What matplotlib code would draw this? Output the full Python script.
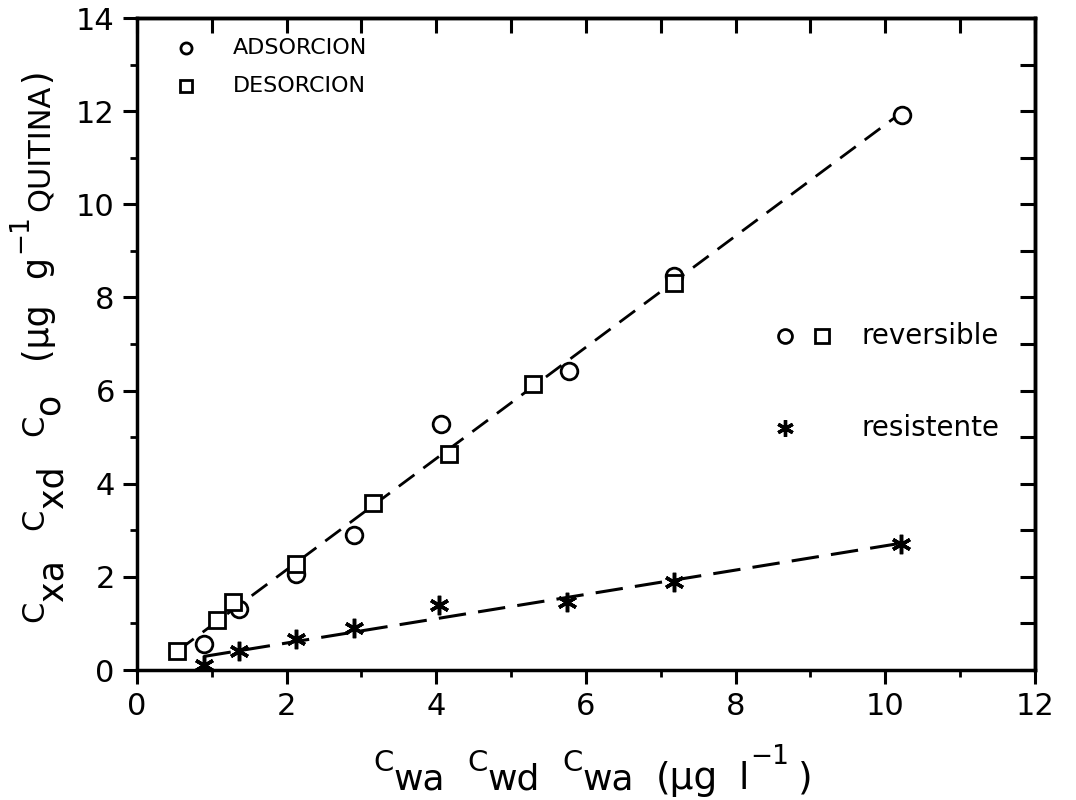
import matplotlib
matplotlib.use("Agg")
import matplotlib.pyplot as plt

# ---- data ----
ads_x = [0.89, 1.37, 2.13, 2.90, 4.06, 5.77, 7.17, 10.22]
ads_y = [0.55, 1.32, 2.06, 2.90, 5.28, 6.42, 8.45, 11.91]

des_x = [0.53, 1.07, 1.28, 2.13, 3.15, 4.17, 5.29, 7.17]
des_y = [0.41, 1.07, 1.46, 2.27, 3.59, 4.63, 6.14, 8.30]

res_x = [0.89, 1.37, 2.13, 2.90, 4.03, 5.75, 7.17, 10.21]
res_y = [0.11, 0.41, 0.66, 0.91, 1.39, 1.47, 1.89, 2.70]

rev_line_x = [0.55, 10.20]
rev_line_y = [0.42, 11.95]
res_line_x = [0.89, 10.20]
res_line_y = [0.29, 2.72]

x_ticks = [0, 2, 4, 6, 8, 10, 12]
y_ticks = [0, 2, 4, 6, 8, 10, 12, 14]

W, H = 1076, 800
fig = plt.figure(figsize=(W / 100, H / 100), dpi=100)
ax = fig.add_axes([0.1273, 0.1625, 0.8346, 0.815])

ax.set_xlim(0, 12)
ax.set_ylim(0, 14)

# fitted dashed lines
ax.plot(rev_line_x, rev_line_y, color="black", lw=2.0, dashes=(7, 4), zorder=2)
ax.plot(res_line_x, res_line_y, color="black", lw=2.2, dashes=(9, 4), zorder=2)

# data markers
ax.plot(ads_x, ads_y, linestyle="none", marker="o", ms=12, mfc="white",
        mec="black", mew=2.0, zorder=3)
ax.plot(des_x, des_y, linestyle="none", marker="s", ms=11.5, mfc="white",
        mec="black", mew=2.0, zorder=3)
ax.plot(res_x, res_y, linestyle="none", marker=(6, 2, 0), ms=14,
        mec="black", mew=2.5, zorder=3)

# spines
for s in ax.spines.values():
    s.set_linewidth(2.5)

# bottom / left ticks (outward)
ax.set_xticks(x_ticks)
ax.set_yticks(y_ticks)
ax.set_xticks(range(1, 12, 2), minor=True)
ax.set_yticks(range(1, 14, 2), minor=True)
ax.tick_params(axis="both", which="major", direction="out", length=10,
               width=2.2, labelsize=22, pad=6)
ax.tick_params(axis="both", which="minor", direction="out", length=5,
               width=2.0)

# top / right ticks (inward)
secx = ax.secondary_xaxis("top")
secx.set_xticks(range(0, 13))
secx.set_xticklabels([])
secx.tick_params(direction="in", length=11, width=2.2)
secx.spines["top"].set_linewidth(2.5)
secy = ax.secondary_yaxis("right")
secy.set_yticks(range(0, 15))
secy.set_yticklabels([])
secy.tick_params(direction="in", length=11, width=2.2)
secy.spines["right"].set_linewidth(2.5)

# ---- axis labels built from pieces laid out one after another ----
renderer = fig.canvas.get_renderer()


def text_width(text, size):
    t = fig.text(0, 0, text, fontsize=size)
    w = t.get_window_extent(renderer).width
    t.remove()
    return w


def label_run(pieces, center, span, base, rot):
    """pieces: (text, fontsize, baseline shift px, gap weight after).
    center/span along the writing direction, base = baseline position
    across it (all in pixels from the top-left corner)."""
    widths = [text_width(p[0], p[1]) for p in pieces]
    weights = [p[3] for p in pieces[:-1]]
    free = span - sum(widths)
    unit = free / sum(weights) if sum(weights) else 0
    pos = 0.0
    for (txt, size, dy, gw), w in zip(pieces, widths):
        if rot == 0:
            xi, yi = center - span / 2 + pos, base + dy
        else:
            xi, yi = base + dy, center + span / 2 - pos
        fig.text(xi / W, 1 - yi / H, txt, fontsize=size, rotation=rot,
                 rotation_mode="anchor", ha="left", va="baseline")
        pos += w + gw * unit


x_label = [("C", 21, 0, 0.0), ("wa", 26, 18, 1.0),
           ("C", 21, 0, 0.0), ("wd", 26, 18, 1.0),
           ("C", 21, 0, 0.0), ("wa", 26, 18, 1.0),
           ("(μg", 27, 18, 0.9), ("l", 27, 18, 0.1),
           ("\u22121", 19, -7, 0.4), (")", 27, 18, 0.0)]
label_run(x_label, center=593, span=440, base=771, rot=0)

y_label = [("C", 22, 0, 0.0), ("xa", 25, 19, 1.0),
           ("C", 22, 0, 0.0), ("xd", 25, 19, 1.0),
           ("C", 22, 0, 0.0), ("o", 25, 16, 1.2),
           ("(μg", 25, 3, 0.8), ("g", 25, 3, 0.1),
           ("\u22121", 19, -16, 0.1), ("QUITINA", 22, 6, 0.1),
           (")", 25, 3, 0.0)]
label_run(y_label, center=345, span=554, base=43, rot=90)

# legend (top-left)
ax.plot([0.0546], [0.954], transform=ax.transAxes, marker="o", ms=8,
        mfc="white", mec="black", mew=2.0, linestyle="none", clip_on=False)
ax.plot([0.0546], [0.896], transform=ax.transAxes, marker="s", ms=8,
        mfc="white", mec="black", mew=2.0, linestyle="none", clip_on=False)
ax.text(0.107, 0.954, "ADSORCION", transform=ax.transAxes, fontsize=16,
        va="center", ha="left")
ax.text(0.107, 0.896, "DESORCION", transform=ax.transAxes, fontsize=16,
        va="center", ha="left")

# legend (right)
ax.plot([0.7216], [0.512], transform=ax.transAxes, marker="o", ms=10,
        mfc="white", mec="black", mew=2.0, linestyle="none")
ax.plot([0.763], [0.512], transform=ax.transAxes, marker="s", ms=10,
        mfc="white", mec="black", mew=2.0, linestyle="none")
ax.plot([0.7216], [0.371], transform=ax.transAxes, marker=(6, 2, 0), ms=12,
        mec="black", mew=2.4, linestyle="none")
ax.text(0.807, 0.512, "reversible", transform=ax.transAxes, fontsize=20,
        va="center", ha="left")
ax.text(0.807, 0.371, "resistente", transform=ax.transAxes, fontsize=20,
        va="center", ha="left")

fig.savefig("out.png", dpi=100)
